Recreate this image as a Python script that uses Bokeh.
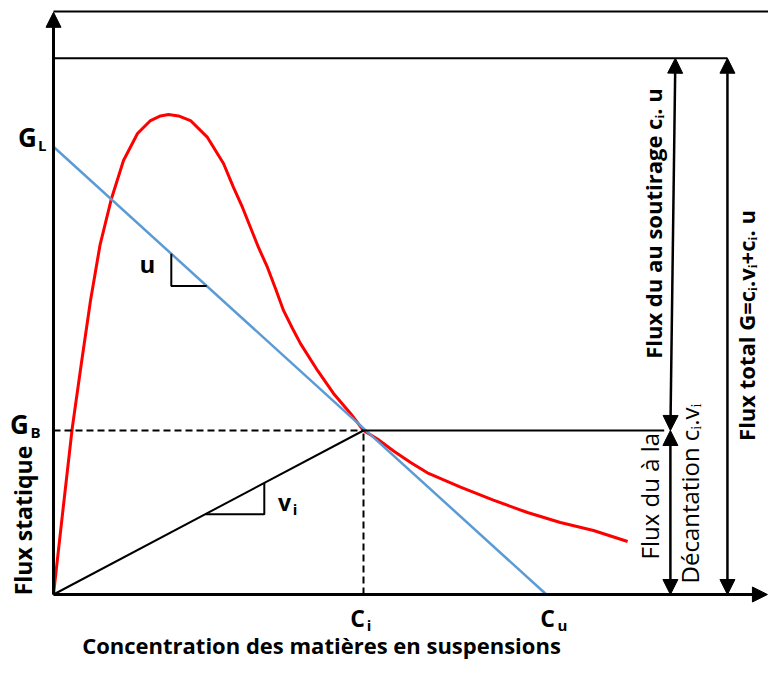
import math
from bokeh.plotting import figure
from bokeh.models import Range1d, Arrow, NormalHead
from bokeh.core.properties import value
from bokeh.embed import file_html
from bokeh.resources import INLINE

# ---- data (arbitrary units) ----
C_i = 10.0      # concentration limite
C_u = 15.9      # concentration de soutirage
G_B = 10.0      # flux limite
G_L = 27.3      # flux (ordonnee a l'origine de la droite de soutirage)
C_max = 23.03   # end of the concentration axis
F_max = 35.5    # end of the flux axis
F_top = 32.7    # level of the total flux
C_arrows = [19.9, 21.74]   # positions of the flux arrows
C_gb_end = 19.7

conc = [0.0, 0.306, 0.603, 0.903, 1.194, 1.50, 1.871, 2.258, 2.710, 3.129,
        3.452, 3.710, 4.032, 4.419, 4.968, 5.226, 5.484, 5.806, 6.097, 6.355,
        6.613, 6.903, 7.161, 7.419, 7.710, 7.968, 8.516, 9.032, 9.581, 10.0,
        10.45, 10.97, 11.52, 12.06, 13.13, 14.19, 15.29, 16.35, 17.42, 18.52]
flux = [0.0, 5.18, 10.12, 14.15, 17.93, 21.3, 24.15, 26.46, 28.11, 28.90,
        29.18, 29.27, 29.18, 28.90, 27.87, 27.07, 26.28, 24.82, 23.60, 22.38,
        21.16, 19.94, 18.66, 17.32, 16.22, 15.30, 13.66, 12.26, 11.04, 10.0,
        9.48, 8.75, 8.05, 7.42, 6.55, 5.75, 5.00, 4.39, 3.90, 3.23]

tri_u_x = [3.8, 4.94]
tri_v_x = [4.9, 6.8]

FONT = value("Open Sans")

W, H = 768, 662
p = figure(width=W, height=H, output_backend="svg", toolbar_location=None,
           x_range=Range1d(-53 / 31, (W - 53) / 31),
           y_range=Range1d((594 - H) / 16.4, 594 / 16.4),
           min_border=0, x_axis_location=None, y_axis_location=None)
p.grid.visible = False
p.outline_line_color = None
p.background_fill_color = "white"

def blue(x):
    return G_L * (1 - x / C_u)

# top border line
p.line([0, C_max + 2], [35.55, 35.55], line_color="black", line_width=2)
# total flux level
p.line([0, C_arrows[1]], [F_top, F_top], line_color="black", line_width=2)

# red curve
p.line(conc, flux, line_color="#ff0000", line_width=3, line_join="round")
# blue line
p.line([0, C_u], [G_L, 0], line_color="#5b9bd5", line_width=2.5)
# black line (decantation)
p.line([0, C_i], [0, G_B], line_color="black", line_width=2)
# G_B horizontal
p.line([C_i, C_gb_end], [G_B, G_B], line_color="black", line_width=2)
p.line([0, C_i], [G_B, G_B], line_color="black", line_width=2, line_dash="7 4")
p.line([C_i, C_i], [0, G_B], line_color="black", line_width=2, line_dash="7 4")

# slope triangles
p.line([tri_u_x[0], tri_u_x[0], tri_u_x[1]], [blue(tri_u_x[0]), blue(tri_u_x[1]), blue(tri_u_x[1])],
       line_color="black", line_width=2)
p.line([tri_v_x[0], tri_v_x[1], tri_v_x[1]], [tri_v_x[0], tri_v_x[0], tri_v_x[1]],
       line_color="black", line_width=2)

def head():
    return NormalHead(size=15, fill_color="black", line_color="black", line_width=1)

# axes
p.add_layout(Arrow(end=head(), x_start=0, y_start=0, x_end=0, y_end=F_max,
                   line_color="black", line_width=3))
p.add_layout(Arrow(end=head(), x_start=0, y_start=0, x_end=C_max, y_end=0,
                   line_color="black", line_width=3))

# flux arrows
p.add_layout(Arrow(start=head(), end=head(), x_start=C_arrows[0], y_start=G_B,
                   x_end=C_arrows[0] + 0.16, y_end=F_top, line_color="black", line_width=2.5))
p.add_layout(Arrow(start=head(), end=head(), x_start=C_arrows[0], y_start=0,
                   x_end=C_arrows[0], y_end=G_B, line_color="black", line_width=2.5))
p.add_layout(Arrow(start=head(), end=head(), x_start=C_arrows[1], y_start=0,
                   x_end=C_arrows[1], y_end=F_top, line_color="black", line_width=2.5))

def txt(x, y, s, size, bold=True, angle=0.0, align="center"):
    p.text(x=[x], y=[y], text=[s], text_font=FONT, text_font_size=f"{size}px",
           text_font_style="bold" if bold else "normal", text_color="black",
           text_align=align, text_baseline="middle", angle=angle)

# horizontal labels
txt(-0.84, 27.87, "G", 26)
txt(-0.36, 27.40, "L", 15)
txt(-1.10, 10.37, "G", 26)
txt(-0.58, 9.90, "B", 15)
txt(3.03, 20.18, "u", 24)
txt(7.45, 5.61, "v", 23)
txt(7.79, 5.22, "i", 15)
txt(9.81, -1.42, "C", 23)
txt(10.18, -1.87, "i", 15)
txt(15.94, -1.42, "C", 23)
txt(16.42, -1.89, "u", 15)
txt(8.645, -3.05, "Concentration des matières en suspensions", 22)

# vertical labels
V = math.pi / 2
txt(-1.0, 4.51, "Flux statique", 23, angle=V)
txt(19.35, 22.62, "Flux du au soutirage cᵢ. u", 22, angle=V)
txt(19.22, 6.0, "Flux du à la", 24, bold=False, angle=V)
txt(20.50, 6.16, "Décantation cᵢ.vᵢ", 24, bold=False, angle=V)
txt(22.35, 16.4, "Flux total G=cᵢ.vᵢ+cᵢ. u", 22, angle=V)

open("out.html", "w").write(file_html(p, INLINE))
